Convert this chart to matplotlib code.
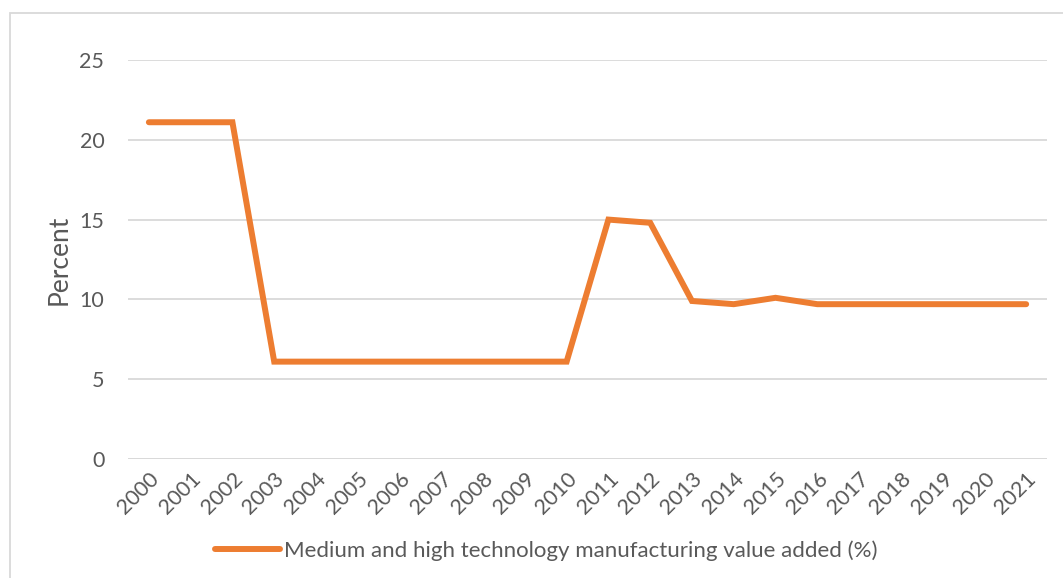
import matplotlib.pyplot as plt
from matplotlib.patches import Rectangle

# Dados da série
anos = [str(a) for a in range(2000, 2022)]
valores = [21.1, 21.1, 21.1, 6.1, 6.1, 6.1, 6.1, 6.1, 6.1, 6.1, 6.1,
           15.0, 14.8, 9.9, 9.7, 10.1, 9.7, 9.7, 9.7, 9.7, 9.7, 9.7]
y_ticks = [0, 5, 10, 15, 20, 25]
rotulo_serie = 'Medium and high technology manufacturing value added (%)'

LARANJA = '#ED7D31'
CINZA_GRADE = '#D9D9D9'
TEXTO = '#595959'

plt.rcParams['font.family'] = ['Lato', 'DejaVu Sans']

fig = plt.figure(figsize=(10.63, 5.78), dpi=100)
ax = fig.add_axes([0.1204, 0.2059, 0.8646, 0.6903])

x = list(range(len(anos)))
linha, = ax.plot(x, valores, color=LARANJA, linewidth=4.3,
                 solid_capstyle='round', solid_joinstyle='miter', label=rotulo_serie)

ax.set_xlim(-0.5, len(anos) - 0.5)
ax.set_ylim(0, 25)
ax.set_yticks(y_ticks)
ax.yaxis.grid(True, color=CINZA_GRADE, linewidth=1.3)
ax.set_axisbelow(True)
for lado in ['top', 'right', 'left', 'bottom']:
    ax.spines[lado].set_visible(False)
ax.axhline(0, color=CINZA_GRADE, linewidth=1.3, zorder=0)

ax.set_xticks(x)
ax.set_xticklabels(anos, rotation=45, ha='right', rotation_mode='anchor')
ax.tick_params(axis='both', length=0, labelsize=15.5, labelcolor=TEXTO)
ax.tick_params(axis='x', pad=7)
ax.tick_params(axis='y', pad=17)
ax.set_ylabel('Percent', fontsize=19, color=TEXTO, labelpad=6)

fig.legend(handles=[linha], loc='center', bbox_to_anchor=(0.514, 0.048),
           frameon=False, fontsize=16, labelcolor=TEXTO,
           handlelength=2.9, handletextpad=0.2)

# Moldura da área do gráfico
fig.patches.append(Rectangle((10 / 1063, -0.01), 1.02, 1 - 13 / 578 + 0.01,
                             transform=fig.transFigure, fill=False,
                             edgecolor=CINZA_GRADE, linewidth=1.3))

fig.savefig('out.png', dpi=100)
